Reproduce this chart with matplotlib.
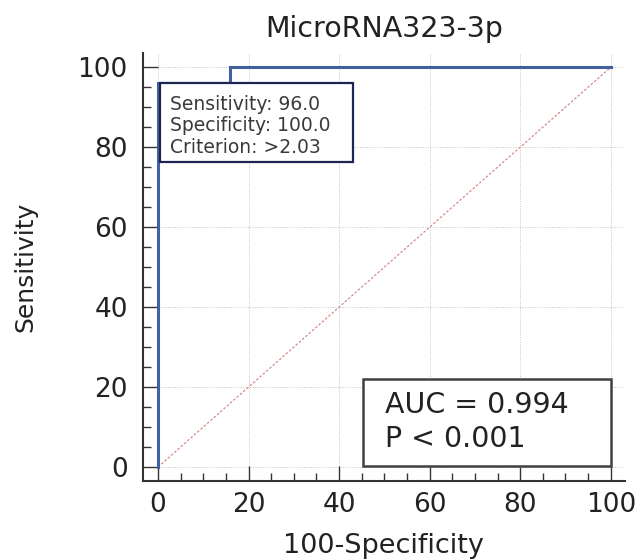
import matplotlib
matplotlib.use("Agg")
from matplotlib import pyplot as plt
from matplotlib.patches import Rectangle
from matplotlib.ticker import MultipleLocator

# reference text is wide, DejaVu Sans fits its footprint better than Arial
plt.rcParams['font.family'] = ['DejaVu Sans']

# ROC curve points (100-Specificity, Sensitivity)
roc_x = [0, 0, 16, 16, 100]
roc_y = [0, 96, 96, 100, 100]

title = 'MicroRNA323-3p'
cutoff_lines = ['Sensitivity: 96.0', 'Specificity: 100.0', 'Criterion: >2.03']
auc_lines = ['AUC = 0.994', 'P < 0.001']

fig = plt.figure(figsize=(6.39, 5.6), dpi=100)
ax = fig.add_axes([0.2238, 0.141, 0.754, 0.764])

ax.set_xlim(-3.3, 103.1)
ax.set_ylim(-3.5, 103.5)

# grid
ax.set_axisbelow(True)
ax.grid(True, which='major', color='#c4c4c4', linestyle=(0, (1, 1.5)), linewidth=0.7)

# reference diagonal
ax.plot([0, 100], [0, 100], color='#d58a8a', linestyle=(0, (2, 1.5)), linewidth=0.9)

# ROC curve
ax.plot(roc_x, roc_y, color='#42619f', linewidth=2.2, solid_joinstyle='miter')

# criterion box
ax.add_patch(Rectangle((0.4, 76.2), 42.6, 19.8, facecolor='white',
                       edgecolor='#1d2552', linewidth=1.6, zorder=3))
for i, line in enumerate(cutoff_lines):
    ax.text(2.6, 89.3 - 5.35 * i, line, fontsize=13.5, color='#3a3a3a',
            va='baseline', ha='left', zorder=4)

# AUC box
ax.add_patch(Rectangle((45.3, 0.2), 54.7, 21.8, facecolor='white',
                       edgecolor='#404040', linewidth=1.8, zorder=3))
for i, line in enumerate(auc_lines):
    ax.text(50.1, 13.4 - 8.5 * i, line, fontsize=20.5, color='#222222',
            va='baseline', ha='left', zorder=4)

for side in ['top', 'right']:
    ax.spines[side].set_visible(False)
for side in ['left', 'bottom']:
    ax.spines[side].set_color('#333333')
    ax.spines[side].set_linewidth(1.5)

ax.xaxis.set_major_locator(MultipleLocator(20))
ax.xaxis.set_minor_locator(MultipleLocator(5))
ax.yaxis.set_major_locator(MultipleLocator(20))
ax.yaxis.set_minor_locator(MultipleLocator(5))
ax.tick_params(which='both', direction='in', color='#333333', width=1.0)
ax.tick_params(which='major', length=10.5, labelsize=19, labelcolor='#222222')
ax.tick_params(which='minor', length=5.8)
ax.tick_params(axis='y', which='major', pad=11)
ax.tick_params(axis='x', which='major', pad=8)

ax.set_title(title, fontsize=20.5, color='#222222', pad=12)
ax.set_xlabel('100-Specificity', fontsize=19.5, color='#222222', labelpad=11)
ax.set_ylabel('Sensitivity', fontsize=18, color='#222222', labelpad=29)

fig.savefig('out.png', dpi=100, facecolor='white')
